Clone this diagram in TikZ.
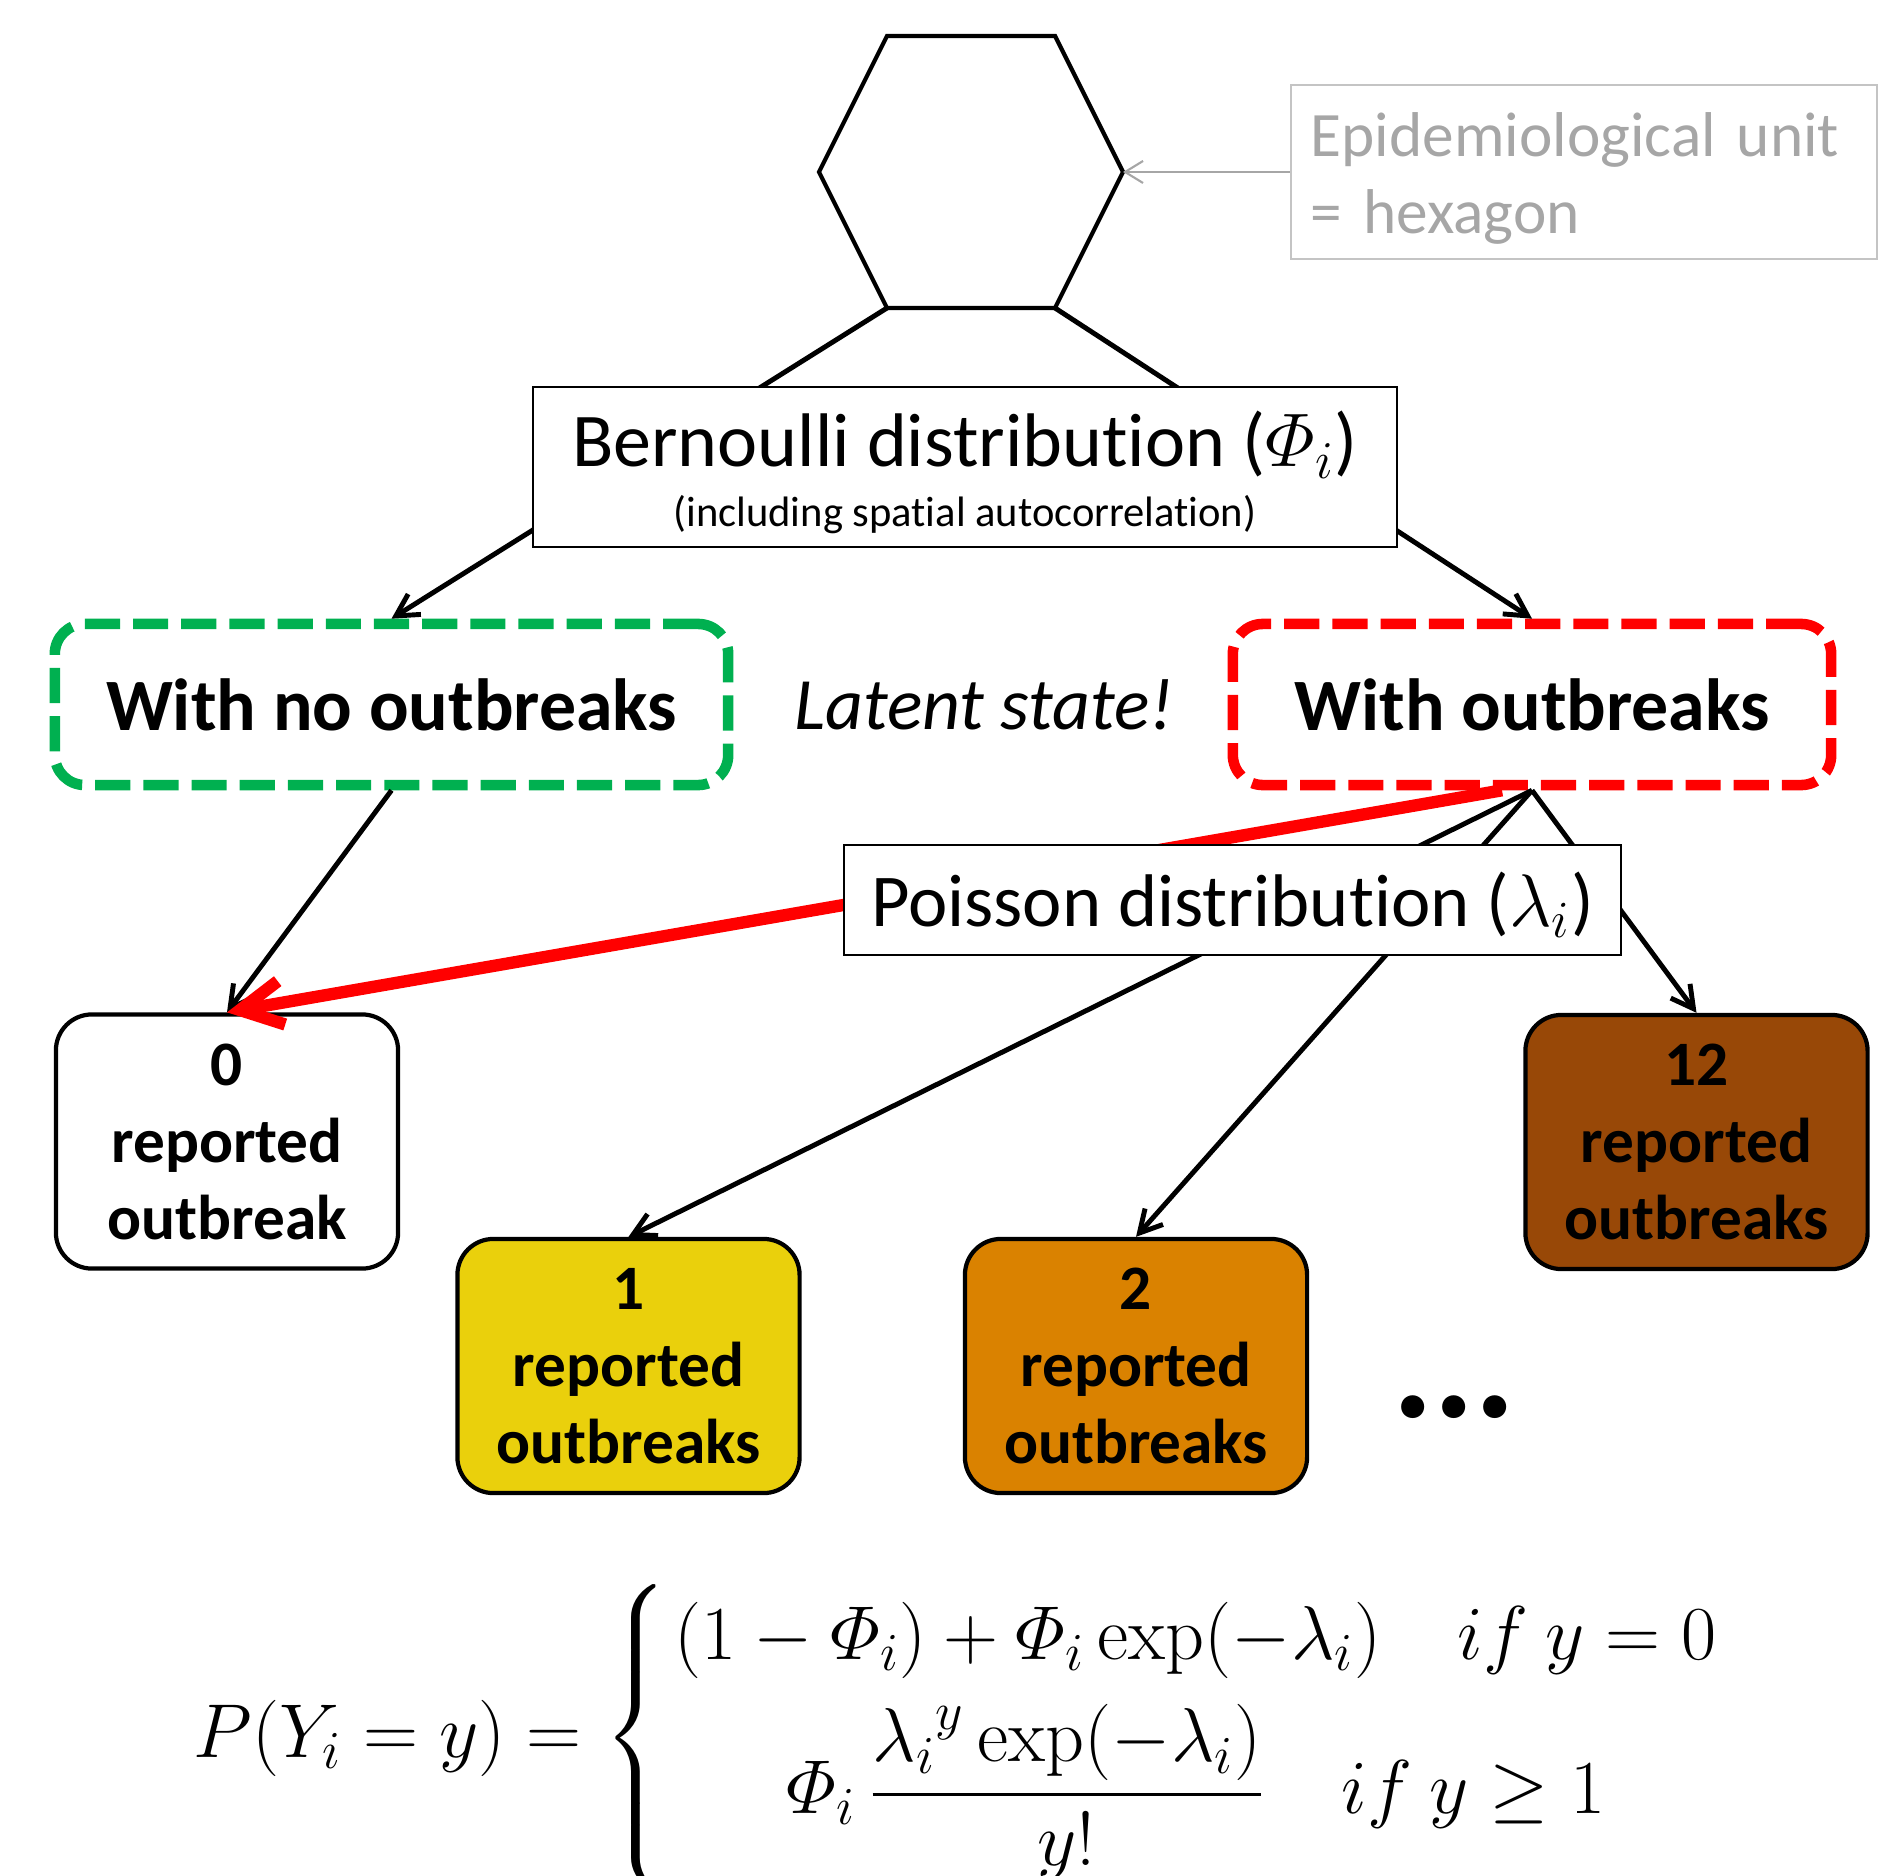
\RequirePackage{fix-cm}
\documentclass[tikz,border=0pt]{standalone}
\usepackage{amsmath}
\usepackage[no-math]{fontspec}
\setmainfont{Carlito}[Ligatures={TeX,NoCommon}]
\usetikzlibrary{arrows.meta,positioning}
\newcommand{\OutbreakTreeUnit}{0.01}
\definecolor{stategreen}{RGB}{0,176,80}
\definecolor{statered}{RGB}{255,0,0}
\definecolor{countyellow}{RGB}{234,208,12}
\definecolor{countorange}{RGB}{218,130,0}
\definecolor{countbrown}{RGB}{152,72,7}
\definecolor{unitgray}{RGB}{166,166,166}
\definecolor{unitframe}{RGB}{196,196,196}

\begin{document}
\begin{tikzpicture}[x=\OutbreakTreeUnit cm, y=-\OutbreakTreeUnit cm,
		distbox/.style={draw, line width=0.6pt, fill=white, inner sep=0pt, align=center},
		statebox/.style={draw, line width=3pt, dash pattern=on 10pt off 3.7pt, rounded corners=0.3cm, minimum height=1.61cm, inner sep=0pt, font=\fontsize{21}{25}\selectfont\bfseries},
		countbox/.style={draw, line width=1.2pt, rounded corners=0.36cm, minimum width=3.42cm, minimum height=2.54cm, inner sep=0pt, align=center, font=\fontsize{18}{21.9}\selectfont\bfseries},
		link/.style={line width=1.4pt, -{Straight Barb[length=2.2mm, width=2.4mm]}},
		redlink/.style={statered, line width=3.5pt, -{Straight Barb[length=4.2mm, width=4.4mm]}},
		]
		\useasboundingbox (0,0) rectangle (1897,1876);
		\clip (0,0) rectangle (1897,1876);

		\draw[line width=1.2pt] (887,36) coordinate (h1) -- (1055,36) coordinate (h2) -- (1123,172) coordinate (hexR) -- (1055,308) coordinate (hexBR) -- (887,308) coordinate (hexBL) -- (819,172) coordinate (h6) -- cycle;

		\node[draw=unitframe, line width=0.6pt, text=unitgray, minimum width=5.86cm, minimum height=1.74cm, text width=5.46cm, text height=16.3pt, align=left, inner xsep=0.2cm, font=\fontsize{18}{21.9}\selectfont] (unit) at (1584,172) {Epidemiological unit\\= hexagon};
		\draw[unitgray, line width=0.6pt, -{Straight Barb[length=1.8mm, width=2.2mm]}] (unit.west) -- (hexR);

		\node[statebox, draw=stategreen, minimum width=6.73cm] (st1) at (391.5,704.5) {With no outbreaks};
		\node[statebox, draw=statered, minimum width=5.98cm] (st2) at (1532,704.5) {With outbreaks};
		\node[font=\fontsize{21}{25}\selectfont\itshape] (latent) at (984,705) {Latent state!};

		\node[countbox, fill=white] (y0) at (227,1141.5) {0\\reported\\outbreak};
		\node[countbox, fill=countyellow] (y1) at (628.5,1366) {1\\reported\\outbreaks};
		\node[countbox, fill=countorange, right=1.61cm of y1] (y2) {2\\reported\\outbreaks};
		\node[countbox, fill=countbrown] (y12) at (1696.5,1142) {12\\reported\\outbreaks};
		\node[font=\fontsize{44}{46}\selectfont\bfseries] (more) at (1454,1407) {...};

		\draw[link] (hexBL) -- (st1.north);
		\draw[link] (hexBR) -- (st2.north);
		\draw[link] (st1.south) -- (y0.north);
		\draw[link] (st2.south) -- (y1.north);
		\draw[link] (st2.south) -- (y2.north);
		\draw[link] (st2.south) -- (y12.north);
		\draw[redlink] ([xshift=-3mm]st2.south) -- (y0.north);

		\node[distbox, minimum width=8.64cm, minimum height=1.6cm, text height=36pt, font=\fontsize{12.1}{17}\selectfont] (bern) at (965,467) {{\fontsize{21.6}{17}\selectfont Bernoulli distribution ($\varPhi_i$)}\\(including spatial autocorrelation)};
		\node[distbox, minimum width=7.77cm, minimum height=1.1cm, text height=18pt, font=\fontsize{21.2}{24}\selectfont] (pois) at (1232.5,900) {Poisson distribution ($\lambda_i$)};

		\node[anchor=west, inner sep=0pt, font=\fontsize{21.7}{26}\selectfont] (lik) at (193,1738) {$P(Y_i=y)=\left\{\begin{array}{@{\hspace{2pt}}c@{}}(1-\varPhi_i)+\varPhi_i\exp(-\lambda_i)\quad if\ y=0\\[5pt]\varPhi_i\,\dfrac{{\lambda_i}^{y}\exp(-\lambda_i)}{y!}\quad if\ y\geq 1\end{array}\right.$};
\end{tikzpicture}
\end{document}
